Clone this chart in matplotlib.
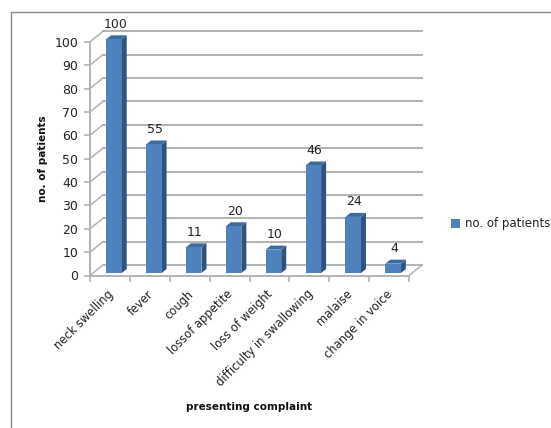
import matplotlib
matplotlib.use("Agg")
import matplotlib.pyplot as plt
from matplotlib.lines import Line2D
from matplotlib.patches import Polygon, Patch

complaints = ["neck swelling", "fever", "cough", "lossof appetite", "loss of weight",
              "difficulty in swallowing", "malaise", "change in voice"]
patients = [100, 55, 11, 20, 10, 46, 24, 4]
y_ticks = list(range(0, 101, 10))

W, H = 551, 428
FRONT_COL = "#4f81bd"
SIDE_COL = "#2f5380"
TOP_COL = "#3d6a9f"
GRID_COL = "#b3b3b3"
TEXT_COL = "#222222"

plt.rcParams["font.family"] = "DejaVu Sans"
fig = plt.figure(figsize=(W / 100, H / 100), dpi=100)

# front plane of the 3d box, in pixels
x0, x1, y0, y1 = 90, 409, 275.5, 41.8
ax = fig.add_axes([x0 / W, 1 - y0 / H, (x1 - x0) / W, (y0 - y1) / H])
ax.set_xlim(0, len(patients))
ax.set_ylim(0, 100)
ax.patch.set_visible(False)

px_x = len(patients) / (x1 - x0)
px_y = 100 / (y0 - y1)


def box(xa, ya, dx, dy):
    return xa + dx * px_x, ya + dy * px_y


# walls: side diagonals and back gridlines
wall_dx, wall_dy = 13, 10.5
for v in y_ticks:
    bx0, by = box(0, v, wall_dx, wall_dy)
    bx1, _ = box(len(patients), v, wall_dx, wall_dy)
    ax.plot([0, bx0], [v, by], color=GRID_COL, lw=1.1, clip_on=False, zorder=1)
    ax.plot([bx0, bx1], [by, by], color=GRID_COL, lw=1.4, clip_on=False, zorder=1)
ax.plot([len(patients), bx1], [0, box(0, 0, 0, wall_dy)[1]], color=GRID_COL, lw=1.1, clip_on=False, zorder=1)

# bars: front face plus side and top faces
bar_w = 0.39
shift_x, shift_y = 4 * px_x, 2.5 * px_y
depth_x, depth_y = 5 * px_x, 4 * px_y
for i, val in enumerate(patients):
    xl = i + 0.5 - bar_w / 2 + shift_x
    xr = xl + bar_w
    yb = shift_y
    yt = val + shift_y
    ax.add_patch(Polygon([(xr, yb), (xr + depth_x, yb + depth_y), (xr + depth_x, yt + depth_y), (xr, yt)],
                         closed=True, fc=SIDE_COL, ec="none", clip_on=False, zorder=3))
    ax.add_patch(Polygon([(xl, yt), (xr, yt), (xr + depth_x, yt + depth_y), (xl + depth_x, yt + depth_y)],
                         closed=True, fc=TOP_COL, ec="none", clip_on=False, zorder=3))
    ax.add_patch(Polygon([(xl, yb), (xr, yb), (xr, yt), (xl, yt)],
                         closed=True, fc=FRONT_COL, ec="none", clip_on=False, zorder=4))
    ax.text((xl + xr) / 2 + depth_x / 2 - 0.03, yt + depth_y + 4.5 * px_y, str(val), ha="center", va="bottom",
            fontsize=9, color=TEXT_COL, zorder=5)

for side in ["top", "right"]:
    ax.spines[side].set_visible(False)
for side in ["left", "bottom"]:
    ax.spines[side].set_color(GRID_COL)
    ax.spines[side].set_linewidth(1.4)

ax.set_yticks(y_ticks)
ax.set_xticks(range(len(patients) + 1))
ax.set_xticklabels([])
ax.tick_params(axis="both", color=GRID_COL, width=1.2, length=4)
ax.tick_params(axis="y", labelsize=9, labelcolor=TEXT_COL, pad=4.5)

# slanted category labels hang from the slot centres
for i, name in enumerate(complaints):
    ax.annotate(name, (i + 0.5, 0), xytext=(-3, -12), textcoords="offset pixels", rotation=45,
                rotation_mode="anchor", ha="right", va="top", fontsize=8.3, color=TEXT_COL,
                annotation_clip=False)

fig.text(43 / W, 1 - 159 / H, "no. of patients", rotation=90, ha="center", va="center",
         fontsize=7.5, fontweight="bold", color="#111111")
fig.text(249 / W, 1 - 407 / H, "presenting complaint", ha="center", va="center",
         fontsize=7.5, fontweight="bold", color="#111111")

fig.legend(handles=[Patch(fc=FRONT_COL, ec="none", label="no. of patients")],
           loc="center left", bbox_to_anchor=(451 / W, 1 - 224 / H), frameon=False,
           fontsize=8.5, handlelength=0.8, handleheight=0.9, handletextpad=0.4,
           borderpad=0, borderaxespad=0, labelcolor=TEXT_COL)

# chart area outline on the top and left
fig.add_artist(Line2D([10.5 / W, 10.5 / W, 1], [0, 1 - 11.5 / H, 1 - 11.5 / H],
                      color="#8a8a8a", lw=1.0))

fig.savefig("out.png", dpi=100)
